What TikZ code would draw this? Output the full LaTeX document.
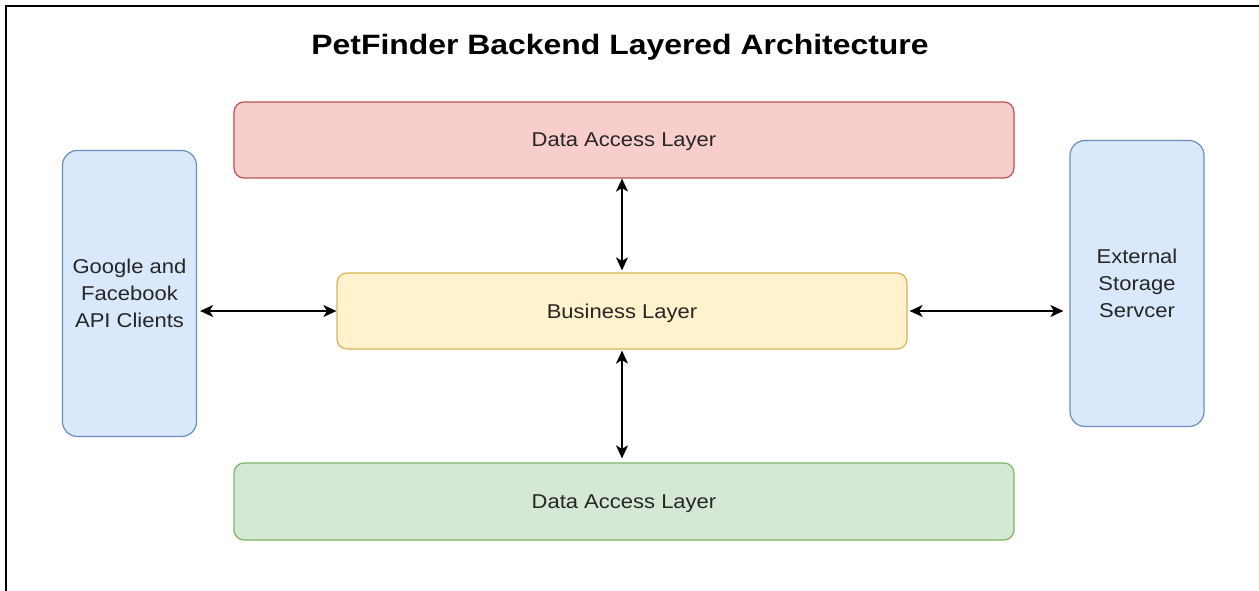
\documentclass[tikz,border=0pt]{standalone}
\usepackage{fontspec}
\usepackage{graphicx}
\setmainfont{Liberation Sans}
\usetikzlibrary{arrows.meta}

\definecolor{redfill}{HTML}{F8CECC}
\definecolor{redline}{HTML}{B85450}
\definecolor{yelfill}{HTML}{FFF2CC}
\definecolor{yelline}{HTML}{D6B656}
\definecolor{grnfill}{HTML}{D5E8D4}
\definecolor{grnline}{HTML}{82B366}
\definecolor{blufill}{HTML}{DAE8FC}
\definecolor{bluline}{HTML}{6C8EBF}
\definecolor{txt}{HTML}{262626}

% slightly widened sans lettering
\newcommand\wide[1]{\scalebox{1.1}[1]{#1}}
\newcommand\widetitle[1]{\scalebox{1.14}[1]{#1}}

\tikzset{
  layer/.style={draw, rounded corners=10pt, line width=1.2pt, inner sep=0pt,
    text=txt, font=\fontsize{20}{27}\selectfont, align=center},
  band/.style={layer, text height=14pt, text depth=0pt},
  side/.style={layer, rounded corners=15pt, draw=bluline, fill=blufill,
    minimum width=134pt, minimum height=286pt},
  tipshape/.tip={Stealth[length=13pt,width=12pt,inset=3.5pt]},
  conn/.style={line width=1.3pt, black, tipshape-tipshape},
  frame/.style={line width=1.6pt, black}
}

\begin{document}
\begin{tikzpicture}[x=1pt,y=-1pt]
\useasboundingbox (0,0) rectangle (1259,591);
\fill[white] (0,0) rectangle (1259,591);

% outer frame, open to the right and bottom
\draw[frame] (6,591) -- (6,6) -- (1259,6);

% title
\node[anchor=base, text=black, font=\fontsize{28}{32}\selectfont\bfseries] (title)
  at (620,55) {\widetitle{PetFinder Backend Layered Architecture}};

% layers
\node[band, draw=redline, fill=redfill, minimum width=780pt, minimum height=76pt]
  (dtop) at (624,140) {\wide{Data Access Layer}};
\node[band, draw=yelline, fill=yelfill, minimum width=570pt, minimum height=76pt]
  (biz) at (622,311) {\wide{Business Layer}};
\node[band, draw=grnline, fill=grnfill, minimum width=780pt, minimum height=77pt]
  (dbot) at (624,501.5) {\wide{Data Access Layer}};

% clients and storage
\node[side] (clients) at (129.5,293.5)
  {\wide{Google and}\\\wide{Facebook}\\\wide{API Clients}};
\node[side] (storage) at (1137,283.5)
  {\wide{External}\\\wide{Storage}\\\wide{Servcer}};

% connectors
\draw[conn, shorten <=3pt] (clients.east |- biz.west) -- (biz.west);
\draw[conn, shorten <=2pt, shorten >=6pt] (biz.east) -- (storage.west |- biz.east);
\draw[conn, shorten >=2pt] (biz.north |- dtop.south) -- (biz.north);
\draw[conn, shorten <=1pt, shorten >=4pt] (biz.south) -- (biz.south |- dbot.north);
\end{tikzpicture}
\end{document}
